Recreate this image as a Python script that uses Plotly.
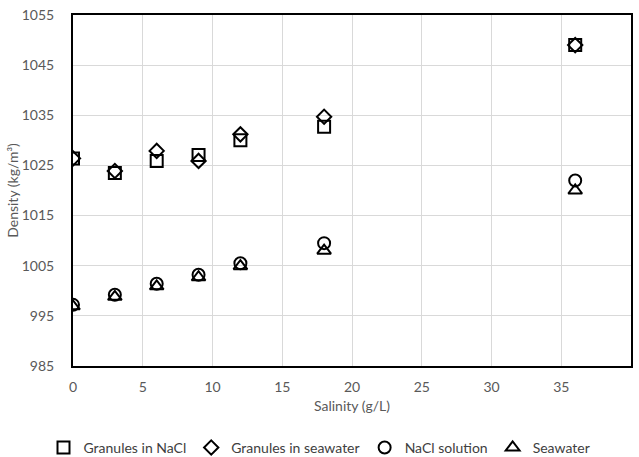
import plotly.graph_objects as go

salinity = [0, 3, 6, 9, 12, 18, 36]
granules_nacl = [1026.4, 1023.5, 1025.9, 1027.1, 1030.0, 1032.7, 1049.0]
granules_seawater = [1026.4, 1023.9, 1027.9, 1025.9, 1031.2, 1034.7, 1049.0]
nacl_solution = [997.2, 999.2, 1001.4, 1003.2, 1005.5, 1009.5, 1022.0]
seawater = [996.9, 998.8, 1000.9, 1002.7, 1004.9, 1008.0, 1020.0]

series = [
    ("Granules in NaCl", granules_nacl, "square-open", 12),
    ("Granules in seawater", granules_seawater, "diamond-open", 11),
    ("NaCl solution", nacl_solution, "circle-open", 12),
    ("Seawater", seawater, "triangle-up-open", 12),
]

font_family = "Lato, Open Sans, sans-serif"
fig = go.Figure()
for name, vals, sym, sz in series:
    fig.add_trace(go.Scatter(
        x=salinity, y=vals, mode="markers", name=name,
        marker=dict(symbol=sym, size=sz, color="black", line=dict(width=2, color="black")),
    ))

fig.update_layout(
    width=639, height=457,
    margin=dict(l=73, r=8, t=15, b=91, autoexpand=False),
    paper_bgcolor="white", plot_bgcolor="white",
    font=dict(family=font_family, size=14, color="#595959"),
    showlegend=True,
    legend=dict(orientation="h", xref="container", yref="container",
                x=0.5, xanchor="center", y=0.02, yanchor="middle",
                font=dict(size=14, color="#404040"), itemwidth=30,
                itemsizing="trace", traceorder="normal"),
)
fig.update_xaxes(
    range=[0, 40], dtick=5, showgrid=True, gridcolor="#d9d9d9", gridwidth=1,
    zeroline=False, showline=True, mirror=True, linecolor="black", linewidth=2,
    ticks="", ticklabelstandoff=7, automargin=False,
    title=dict(text="Salinity (g/L)", font=dict(size=14, color="#595959"), standoff=7),
)
fig.update_yaxes(
    range=[985, 1055], dtick=10, tick0=985, showgrid=True, gridcolor="#d9d9d9", gridwidth=1,
    zeroline=False, showline=True, mirror=True, linecolor="black", linewidth=2,
    ticks="", ticklabelstandoff=14, automargin=False,
    title=dict(text="Density (kg/m³)", font=dict(size=14, color="#595959"), standoff=0),
)

fig.write_html("out.html", config={"displayModeBar": False},
               post_script="document.body.style.margin='0';")
